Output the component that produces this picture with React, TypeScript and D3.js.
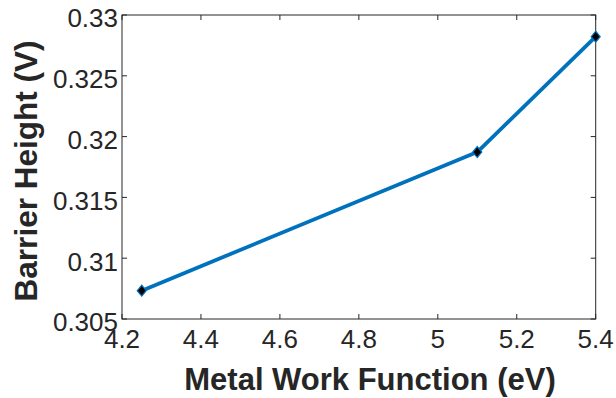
import React from "react";
import * as d3 from "d3";

const workFunction = [4.25, 5.1, 5.4];
const barrierHeight = [0.30733, 0.31873, 0.32822];
const xTicks = [4.2, 4.4, 4.6, 4.8, 5.0, 5.2, 5.4];
const yTicks = [0.305, 0.31, 0.315, 0.32, 0.325, 0.33];
const xLabel = "Metal Work Function (eV)";
const yLabel = "Barrier Height (V)";

const W = 616;
const H = 398;
const margin = { left: 122, top: 15, right: 616 - 595.7, bottom: 398 - 319 };

export default function App() {
  const x = d3.scaleLinear().domain([4.2, 5.4]).range([margin.left, W - margin.right]);
  const y = d3.scaleLinear().domain([0.305, 0.33]).range([H - margin.bottom, margin.top]);
  const pts = workFunction.map((d, i) => [x(d), y(barrierHeight[i])] as [number, number]);
  const line = d3.line()(pts) || "";
  const axisColor = "#262626";
  const tl = 5;
  const x0 = x.range()[0], x1 = x.range()[1];
  const y0 = y.range()[0], y1 = y.range()[1];
  const font = "'Liberation Sans', Arial, Helvetica, sans-serif";
  const fmtY = (v: number) => String(+v.toFixed(3));
  const fmtX = (v: number) => String(+v.toFixed(1));
  return (
    <svg width={W} height={H} style={{ position: "absolute", left: 0, top: 0, background: "#fff" }}>
      <rect x={0} y={0} width={W} height={H} fill="#fff" />
      <rect x={x0} y={y1} width={x1 - x0} height={y0 - y1} fill="none" stroke={axisColor} strokeWidth={1} />
      {xTicks.map((t) => (
        <g key={"xt" + t}>
          <line x1={x(t)} x2={x(t)} y1={y0} y2={y0 - tl} stroke={axisColor} />
          <line x1={x(t)} x2={x(t)} y1={y1} y2={y1 + tl} stroke={axisColor} />
          <text x={x(t)} y={348} textAnchor="middle" fontFamily={font} fontSize={26} fill={axisColor}>
            {fmtX(t)}
          </text>
        </g>
      ))}
      {yTicks.map((t) => (
        <g key={"yt" + t}>
          <line x1={x0} x2={x0 + tl} y1={y(t)} y2={y(t)} stroke={axisColor} />
          <line x1={x1} x2={x1 - tl} y1={y(t)} y2={y(t)} stroke={axisColor} />
          <text x={118} y={y(t) + 3} dy="0.36em" textAnchor="end" fontFamily={font} fontSize={26} fill={axisColor}>
            {fmtY(t)}
          </text>
        </g>
      ))}
      <path d={line} fill="none" stroke="#0072BD" strokeWidth={3.8} strokeLinejoin="round" />
      {pts.map(([px, py], i) => (
        <path
          key={"m" + i}
          d={`M${px},${py - 5.5} L${px + 4.5},${py} L${px},${py + 5.5} L${px - 4.5},${py} Z`}
          fill="#000"
          stroke="#0072BD"
          strokeWidth={1.2}
        />
      ))}
      <text x={370} y={390} textAnchor="middle" fontFamily={font} fontWeight="bold" fontSize={31} fill={axisColor}>
        {xLabel}
      </text>
      <text
        transform={`translate(37,171) rotate(-90)`}
        textAnchor="middle"
        fontFamily={font}
        fontWeight="bold"
        fontSize={31.5}
        fill={axisColor}
      >
        {yLabel}
      </text>
    </svg>
  );
}
